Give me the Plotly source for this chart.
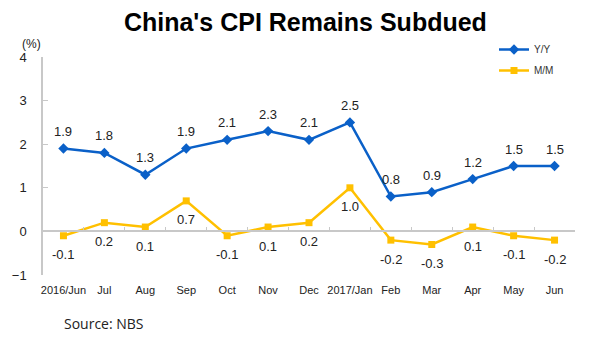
import plotly.graph_objects as go

months = ["2016/Jun", "Jul", "Aug", "Sep", "Oct", "Nov", "Dec", "2017/Jan",
          "Feb", "Mar", "Apr", "May", "Jun"]
yoy = [1.9, 1.8, 1.3, 1.9, 2.1, 2.3, 2.1, 2.5, 0.8, 0.9, 1.2, 1.5, 1.5]
mom = [-0.1, 0.2, 0.1, 0.7, -0.1, 0.1, 0.2, 1.0, -0.2, -0.3, 0.1, -0.1, -0.2]
yoy_labels = ["1.9", "1.8", "1.3", "1.9", "2.1", "2.3", "2.1", "2.5", "0.8", "0.9", "1.2", "1.5", "1.5"]
mom_labels = ["-0.1", "0.2", "0.1", "0.7", "-0.1", "0.1", "0.2", "1.0", "-0.2", "-0.3", "0.1", "-0.1", "-0.2"]
y_ticks = [-1, 0, 1, 2, 3, 4]

BLUE = "#0a60c8"
GOLD = "#ffc000"
AXIS = "#c8c8c8"
FONT = "Liberation Sans, Arial, sans-serif"
NARROW = "Liberation Sans Narrow, Arial Narrow, Liberation Sans, Arial, sans-serif"

W, H = 600, 364
ML, MR, MT, MB = 43, 25, 57, 89
PW, PH = W - ML - MR, H - MT - MB

def px_x(x):
    return (x - ML) / PW

def px_y(y):
    return 1 - (y - MT) / PH

fig = go.Figure()
fig.add_trace(go.Scatter(
    x=months, y=yoy, name="Y/Y", mode="lines+markers", legendgroup="a",
    line=dict(color=BLUE, width=2.5),
    marker=dict(symbol="diamond", size=8, color=BLUE),
    xaxis="x", yaxis="y",
))
fig.add_trace(go.Scatter(
    x=months, y=mom, name="M/M", mode="lines+markers", legendgroup="b",
    line=dict(color=GOLD, width=2.5),
    marker=dict(symbol="square", size=7, color=GOLD),
    xaxis="x2", yaxis="y",
))

annotations = []
for m, v, t in zip(months, yoy, yoy_labels):
    annotations.append(dict(x=m, y=v, xref="x", yref="y", text=t, showarrow=False,
                            yshift=17, font=dict(size=13, color="#222222", family=FONT)))
for m, v, t in zip(months, mom, mom_labels):
    annotations.append(dict(x=m, y=v, xref="x", yref="y", text=t, showarrow=False,
                            yshift=-19, font=dict(size=13, color="#222222", family=FONT)))
annotations.append(dict(x=px_x(31), y=px_y(44), xref="paper", yref="paper", text="(%)",
                        showarrow=False, xanchor="center", yanchor="middle",
                        font=dict(size=12, color="#222222", family=FONT)))
annotations.append(dict(x=px_x(62), y=px_y(323), xref="paper", yref="paper", text="Source: NBS",
                        showarrow=False, xanchor="left", yanchor="middle",
                        font=dict(size=14, color="#222222", family="Open Sans, Noto Sans, sans-serif")))

fig.update_layout(
    width=W, height=H,
    margin=dict(l=ML, r=MR, t=MT, b=MB, autoexpand=False),
    paper_bgcolor="white", plot_bgcolor="white",
    title=dict(text="<b>China's CPI Remains Subdued</b>", x=0.509, xanchor="center",
               y=1 - 22 / H, yanchor="middle",
               font=dict(size=25, color="#000000", family=FONT)),
    showlegend=True,
    legend=dict(x=px_x(494), y=px_y(35), xanchor="left", yanchor="top",
                font=dict(size=10, color="#333333", family=NARROW),
                bgcolor="rgba(0,0,0,0)", tracegroupgap=2, itemwidth=30),
    xaxis=dict(type="category", categoryorder="array", categoryarray=months,
               range=[-0.5, len(months) - 0.5], showline=False, showgrid=False,
               zeroline=False, ticks="", tickfont=dict(size=11, color="#222222", family=NARROW),
               ticklabelstandoff=7),
    xaxis2=dict(type="category", categoryorder="array", categoryarray=months,
                range=[-0.5, len(months) - 0.5], overlaying="x", anchor="free",
                position=(0 - y_ticks[0]) / (y_ticks[-1] - y_ticks[0]),
                showline=True, linecolor=AXIS, linewidth=1.5, showgrid=False, zeroline=False,
                ticks="inside", tickson="boundaries", ticklen=4, tickcolor=AXIS,
                showticklabels=False),
    yaxis=dict(range=[y_ticks[0], y_ticks[-1]], tickvals=y_ticks, showline=True,
               linecolor=AXIS, linewidth=1.5, ticks="inside", ticklen=5, tickcolor=AXIS,
               showgrid=False, zeroline=False, ticklabelstandoff=12,
               tickfont=dict(size=13, color="#222222", family=FONT)),
    annotations=annotations,
)

fig.write_html("out.html", config={"displayModeBar": False},
               post_script="document.body.style.margin='0';")
